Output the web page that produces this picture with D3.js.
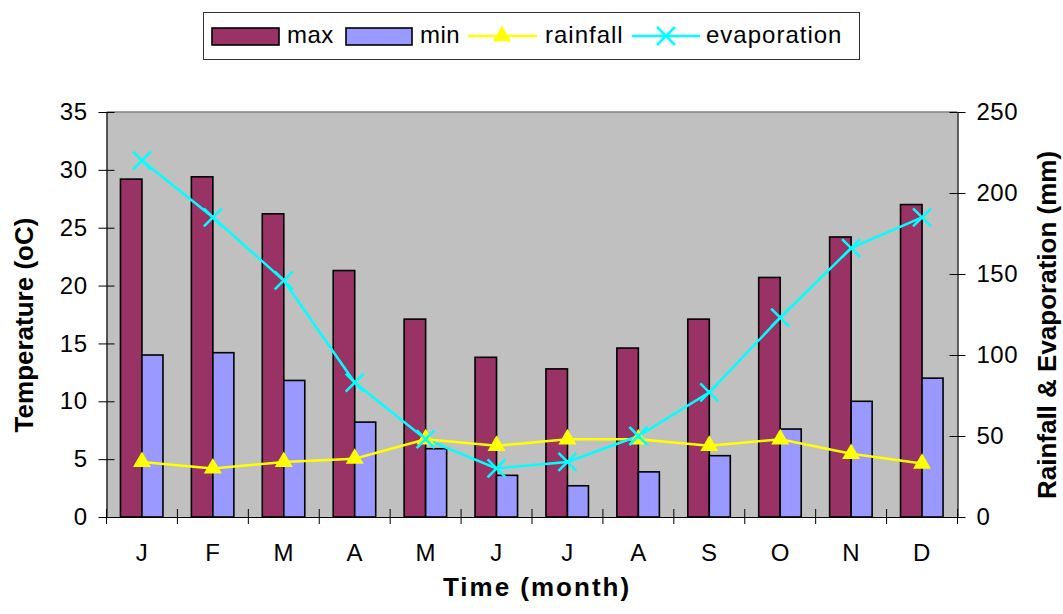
<!DOCTYPE html>
<html><head><meta charset="utf-8">
<script src="https://cdn.jsdelivr.net/npm/d3@7"></script>
<style>
body{margin:0;background:#fff;}
svg text{font-family:"Liberation Sans",Arial,sans-serif;}
</style></head>
<body><svg id="c" width="1063" height="614"></svg>
<script>
const months = ["J","F","M","A","M","J","J","A","S","O","N","D"];
const maxTemp = [29.2,29.4,26.2,21.3,17.1,13.8,12.8,14.6,17.1,20.7,24.2,27.0];
const minTemp = [14.0,14.2,11.8,8.2,5.9,3.6,2.7,3.9,5.3,7.6,10.0,12.0];
const rainfall = [34,30,34,36,48,44,48,48,44,48,39,33];
const evaporation = [220,185,146,83,48,30,34,50,77,123,166,185];
const leftTicks = [0,5,10,15,20,25,30,35];
const rightTicks = [0,50,100,150,200,250];

const svg = d3.select("#c");
const L=106.5, R=957.5, T=112, B=517;
const idx = d3.range(12);
const x = d3.scaleBand().domain(idx).range([L,R]).padding(0);
const yL = d3.scaleLinear().domain([0,35]).range([B,T]);
const yR = d3.scaleLinear().domain([0,250]).range([B,T]);
const bw = 21.5;

// plot area
svg.append("rect").attr("x",L).attr("y",T).attr("width",R-L).attr("height",B-T).attr("fill","#C0C0C0");
svg.append("line").attr("x1",L).attr("x2",R).attr("y1",T).attr("y2",T).attr("stroke","#808080").attr("stroke-width",1.5);

// bars
const cx = i => x(i)+x.bandwidth()/2;
svg.append("g").selectAll("rect").data(maxTemp).join("rect")
  .attr("x",(d,i)=>cx(i)-bw).attr("y",d=>yL(d)).attr("width",bw).attr("height",d=>B-yL(d))
  .attr("fill","#993366").attr("stroke","#000").attr("stroke-width",1.6);
svg.append("g").selectAll("rect").data(minTemp).join("rect")
  .attr("x",(d,i)=>cx(i)).attr("y",d=>yL(d)).attr("width",bw-0.5).attr("height",d=>B-yL(d))
  .attr("fill","#9999FF").attr("stroke","#000").attr("stroke-width",1.6);

// axes
const axL = svg.append("g").attr("transform",`translate(${L},0)`)
  .call(d3.axisLeft(yL).tickValues(leftTicks).tickSize(8).tickPadding(11).tickSizeOuter(0));
axL.selectAll(".tick line").clone().attr("x2",8);
const axR = svg.append("g").attr("transform",`translate(${R},0)`)
  .call(d3.axisRight(yR).tickValues(rightTicks).tickSize(8).tickPadding(11).tickSizeOuter(0));
axR.selectAll(".tick line").clone().attr("x2",-8);
const axB = svg.append("g").attr("transform",`translate(0,${B})`)
  .call(d3.axisBottom(x).tickFormat(i=>months[i]).tickSize(0).tickSizeOuter(0));
axB.selectAll(".tick text").attr("dy",null).attr("y",44);
// boundary ticks
svg.append("g").selectAll("line").data(d3.range(13)).join("line")
  .attr("x1",i=>L+i*x.bandwidth()).attr("x2",i=>L+i*x.bandwidth())
  .attr("y1",B-8).attr("y2",B+7).attr("stroke","#000").attr("stroke-width",1);
[axL,axR,axB].forEach(a=>{
  a.selectAll("text").attr("font-size",24).attr("letter-spacing",0.5).attr("fill","#000").attr("font-family","Liberation Sans, Arial, sans-serif");
  a.select(".domain").attr("stroke","#000").attr("stroke-width",1.2);
});

// lines
const lineGen = (ys,data)=>d3.line().x((d,i)=>cx(i)).y(d=>ys(d))(data);
svg.append("path").attr("d",lineGen(yR,rainfall)).attr("fill","none").attr("stroke","#FFFF00").attr("stroke-width",2.5);
svg.append("path").attr("d",lineGen(yR,evaporation)).attr("fill","none").attr("stroke","#00FFFF").attr("stroke-width",2.5);
const tri = d3.symbol().type(d3.symbolTriangle).size(140);
svg.append("g").selectAll("path").data(rainfall).join("path")
  .attr("d",tri).attr("transform",(d,i)=>`translate(${cx(i)},${yR(d)})`).attr("fill","#FFFF00");
const xMark = "M-9,-9L9,9M-9,9L9,-9";
svg.append("g").selectAll("path").data(evaporation).join("path")
  .attr("d",xMark).attr("transform",(d,i)=>`translate(${cx(i)},${yR(d)})`)
  .attr("stroke","#00FFFF").attr("stroke-width",2.5).attr("fill","none");

// titles
svg.append("text").attr("transform",`translate(33,325) rotate(-90)`).attr("text-anchor","middle")
  .attr("font-size",26).attr("font-weight","bold").text("Temperature (oC)");
svg.append("text").attr("transform",`translate(1056,325) rotate(-90)`).attr("text-anchor","middle")
  .attr("font-size",26).attr("font-weight","bold").text("Rainfall & Evaporation (mm)");
svg.append("text").attr("x",537).attr("y",596).attr("text-anchor","middle")
  .attr("font-size",26).attr("font-weight","bold").attr("letter-spacing",2).text("Time (month)");

// legend
const lg = svg.append("g");
lg.append("rect").attr("x",203.5).attr("y",12.5).attr("width",656).attr("height",47).attr("fill","#fff").attr("stroke","#333").attr("stroke-width",1);
lg.append("rect").attr("x",212).attr("y",28).attr("width",67).attr("height",17).attr("fill","#993366").attr("stroke","#000").attr("stroke-width",1.6);
lg.append("text").attr("x",287).attr("y",43).attr("font-size",24).attr("letter-spacing",0.5).text("max");
lg.append("rect").attr("x",346).attr("y",28).attr("width",66).attr("height",17).attr("fill","#9999FF").attr("stroke","#000").attr("stroke-width",1.6);
lg.append("text").attr("x",420).attr("y",43).attr("font-size",24).attr("letter-spacing",0.5).text("min");
lg.append("line").attr("x1",468).attr("x2",537).attr("y1",36).attr("y2",36).attr("stroke","#FFFF00").attr("stroke-width",2.5);
lg.append("path").attr("d",tri).attr("transform","translate(502,36)").attr("fill","#FFFF00");
lg.append("text").attr("x",545).attr("y",43).attr("font-size",24).attr("letter-spacing",1).text("rainfall");
lg.append("line").attr("x1",632).attr("x2",700).attr("y1",36).attr("y2",36).attr("stroke","#00FFFF").attr("stroke-width",2.5);
lg.append("path").attr("d",xMark).attr("transform","translate(666,36)").attr("stroke","#00FFFF").attr("stroke-width",2.5);
lg.append("text").attr("x",706).attr("y",43).attr("font-size",24).attr("letter-spacing",1).text("evaporation");
</script></body></html>
